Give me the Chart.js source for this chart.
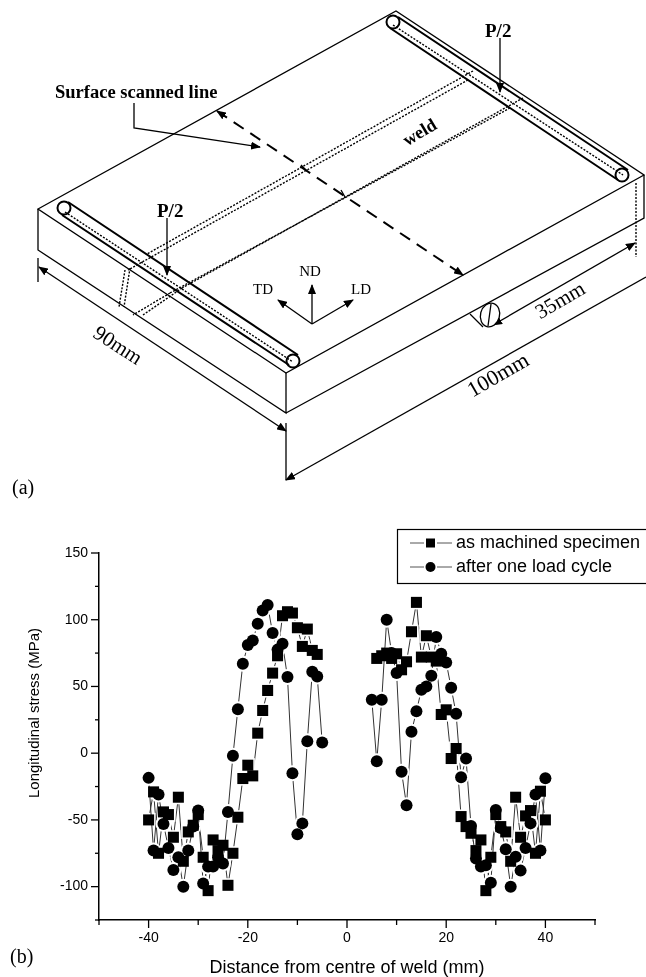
<!DOCTYPE html>
<html>
<head>
<meta charset="utf-8">
<title>Longitudinal stress</title>
<style>
    html, body { margin: 0; padding: 0; background: #fff; }
    #wrap { position: absolute; left: 0; top: 0; width: 646px; height: 977px; overflow: hidden; }
    #stress-chart { position: absolute; left: 0; top: 0; }
    #sketch { position: absolute; left: 0; top: 0; pointer-events: none; }
    #sketch text { font-family: "Liberation Serif", serif; fill: #000; }
    #sketch .bold { font-weight: bold; }
</style>
</head>
<body>
<div id="wrap">
    <canvas id="stress-chart" width="646" height="977"></canvas>
    <!-- specimen drawing (a), not data -->
    <svg id="sketch" width="646" height="977" xmlns="http://www.w3.org/2000/svg">
        <defs>
            <marker id="head" markerUnits="userSpaceOnUse" markerWidth="10" markerHeight="8" refX="9" refY="4" orient="auto-start-reverse">
                <path d="M0 0 L10 4 L0 8 Z" fill="#000"/>
            </marker>
        </defs>
        <g fill="none" stroke="#000" stroke-width="1.3">
            <!-- block -->
            <path d="M38 209 L396 11 L644 175 L286 373 Z"/>
            <path d="M38 209 V250 L286 413 V373 M286 413 L644 218 V175"/>
            <!-- rods -->
            <g stroke-width="2">
                <path d="M398 17 L628 170 M390 28 L618 180"/>
                <path d="M68 202 L298 355 M62 215 L289 365"/>
                <circle cx="393" cy="22" r="6.5"/>
                <circle cx="622" cy="175" r="6.5"/>
                <circle cx="64" cy="208" r="6.5"/>
                <circle cx="293" cy="361" r="6.5"/>
            </g>
            <g stroke-width="1.4" stroke-dasharray="2 1.5">
                <path d="M393 25 L623 175 M65 212 L293 362"/>
                <!-- weld lines -->
                <path d="M473 71 L147 254 M468 80 L128 270"/>
                <path d="M523 98 L182 288 M510 108 L170 293"/>
                <path d="M125 270 L119 307 M130 268 L124 307"/>
                <path d="M170 293 L133 315 M182 288 L143 315"/>
                <path d="M636 183 V257"/>
            </g>
            <path d="M301 165 L307 171 M341 190 L345 197"/>
            <!-- scanned line -->
            <path d="M217 111 L463 275" stroke-width="2" stroke-dasharray="12 8" marker-start="url(#head)" marker-end="url(#head)"/>
            <path d="M134 103 V128 L260 147" marker-end="url(#head)"/>
            <!-- load arrows -->
            <path d="M167 218 V275" marker-end="url(#head)"/>
            <path d="M500 38 V92" marker-end="url(#head)"/>
            <!-- directions -->
            <path d="M312 324 V285" marker-end="url(#head)"/>
            <path d="M312 324 L353 300" marker-end="url(#head)"/>
            <path d="M312 324 L278 300" marker-end="url(#head)"/>
            <!-- dimensions -->
            <path d="M38 258 V282 M286 423 V480"/>
            <path d="M39 267 L286 431" marker-start="url(#head)" marker-end="url(#head)"/>
            <path d="M286 480 L646 277" marker-start="url(#head)"/>
            <path d="M493 325 L635 243" marker-start="url(#head)" marker-end="url(#head)"/>
            <!-- strain gauge hole -->
            <ellipse cx="490" cy="315" rx="9.5" ry="12" transform="rotate(15 490 315)" fill="#fff"/>
            <path d="M470 314 L483 327 M491 304 L488 326"/>
        </g>
        <text x="55" y="98" font-size="18.5" class="bold">Surface scanned line</text>
        <text x="157" y="217" font-size="19" class="bold">P/2</text>
        <text x="485" y="37" font-size="19" class="bold">P/2</text>
        <text x="420" y="138" font-size="18" class="bold" text-anchor="middle" transform="rotate(-31 420 133)">weld</text>
        <text x="310" y="276" font-size="15" text-anchor="middle">ND</text>
        <text x="263" y="294" font-size="15" text-anchor="middle">TD</text>
        <text x="361" y="294" font-size="15" text-anchor="middle">LD</text>
        <text x="118" y="352" font-size="21" text-anchor="middle" transform="rotate(33 118 345)">90mm</text>
        <text x="498" y="382" font-size="22" text-anchor="middle" transform="rotate(-30 498 375)">100mm</text>
        <text x="560" y="307" font-size="21" text-anchor="middle" transform="rotate(-30 560 300)">35mm</text>
        <text x="12" y="494" font-size="20">(a)</text>
        <text x="10" y="963" font-size="20">(b)</text>
    </svg>
</div>

<script src="https://cdn.jsdelivr.net/npm/chart.js@4/dist/chart.umd.min.js"></script>
<script>
// distance from centre of weld (mm), null row keeps the two sides apart
const distance = [
    -40, -39, -38, -37, -36, -35, -34, -33, -32, -31, -30, -29, -28, -27, -26, -25, -24, -23,
    -22, -21, -20, -19, -18, -17, -16, -15, -14, -13, -12, -11, -10, -9, -8, -7, -6, -5,
    0,
    5, 6, 7, 8, 9, 10, 11, 12, 13, 14, 15, 16, 17, 18, 19, 20, 21, 22,
    23, 24, 25, 26, 27, 28, 29, 30, 31, 32, 33, 34, 35, 36, 37, 38, 39, 40
];

const asMachined = [
    -50, -29, -75, -44, -46, -63, -33, -81, -59, -54, -46, -78, -103, -65, -73, -69, -99, -75,
    -48, -19, -9, -17, 15, 32, 47, 60, 73, 103, 106, 105, 94, 80, 93, 77, 74, null,
    null,
    null, 71, 73, 75, 71, 74.5, 62.5, 68.5, 91, 113, 72, 88, 72, 69, 29, 32.5, -4, 3.5,
    -47.5, -55, -60, -73, -65, -103, -78, -46, -55, -59, -81, -33, -63, -47, -43, -75, -28.5, -50
];

const afterLoadCycle = [
    -18.5, -73, -31, -53, -71, -87.6, -78, -100, -73, -55, -43, -97.6, -85, -85, -78, -82.6, -44, -2,
    33, 67, 81, 84.5, 97, 107, 111, 90, 77.6, 82, 57, -15, -60.7, -52.6, 9, 61, 57.5, 8,
    null,
    40, -6, 40, 100, 75, 60, -14, -39, 16, 31.5, 47.5, 50, 58, 87, 74.5, 68, 49, 29.5,
    -18, -4, -54.6, -79, -85, -84, -97, -42.6, -56, -72, -100, -77.6, -88, -71, -52.6, -31, -73, -18.8
];

const seriesNames = ['as machined specimen', 'after one load cycle'];
const xLabelTicks = [-40, -20, 0, 20, 40];
const yLabelTicks = [-100, -50, 0, 50, 100, 150];
const yAxisTitle = 'Longitudinal stress (MPa)';

const AXIS_FONT = 'Liberation Sans';

function toPoints(values) {
    return distance.map((d, i) => ({ x: d, y: values[i] }));
}

// line with white gap round the symbols, symbols go on top in later datasets
function lineDataset(label, values, style, radius, order) {
    return {
        label: label,
        data: toPoints(values),
        showLine: true,
        spanGaps: false,
        tension: 0,
        borderColor: '#333',
        borderWidth: 1,
        pointStyle: style,
        pointRadius: radius,
        pointBackgroundColor: '#fff',
        pointBorderWidth: 0,
        order: order,
    };
}

function symbolDataset(label, values, style, radius, order) {
    return {
        label: label,
        data: toPoints(values),
        showLine: false,
        pointStyle: style,
        pointRadius: radius,
        pointBackgroundColor: '#000',
        pointBorderWidth: 0,
        order: order,
    };
}

// Origin style ticks: long at the labelled values, short between
const axisTicks = {
    id: 'axisTicks',
    afterDraw(chart) {
        const { ctx, scales } = chart;
        ctx.save();
        ctx.strokeStyle = '#000';
        ctx.lineWidth = 1.3;
        scales.x.ticks.forEach(t => {
            const x = scales.x.getPixelForValue(t.value);
            const len = xLabelTicks.includes(t.value) ? 8 : 5;
            ctx.beginPath();
            ctx.moveTo(x, scales.x.top);
            ctx.lineTo(x, scales.x.top + len);
            ctx.stroke();
        });
        scales.y.ticks.forEach(t => {
            const y = scales.y.getPixelForValue(t.value);
            const len = yLabelTicks.includes(t.value) ? 8 : 4;
            ctx.beginPath();
            ctx.moveTo(scales.y.right, y);
            ctx.lineTo(scales.y.right - len, y);
            ctx.stroke();
        });
        ctx.restore();
    }
};

// y title sits above the axis middle in the original, the built in one can't do that
const yTitle = {
    id: 'yTitle',
    afterDraw(chart) {
        const { ctx } = chart;
        ctx.save();
        ctx.translate(35, 713);
        ctx.rotate(-Math.PI / 2);
        ctx.font = '15px "' + AXIS_FONT + '"';
        ctx.fillStyle = '#000';
        ctx.textAlign = 'center';
        ctx.textBaseline = 'middle';
        ctx.fillText(yAxisTitle, 0, 0);
        ctx.restore();
    }
};

// legend box runs off the right edge in the original, so draw it by hand
const legendBox = {
    id: 'legendBox',
    afterDraw(chart) {
        const { ctx } = chart;
        ctx.save();
        ctx.strokeStyle = '#000';
        ctx.lineWidth = 1.2;
        ctx.strokeRect(397.5, 529.5, 260, 54);
        ctx.font = '18px "' + AXIS_FONT + '"';
        ctx.textBaseline = 'middle';
        ctx.fillStyle = '#000';
        seriesNames.forEach((name, i) => {
            const y = 543 + i * 24;
            ctx.strokeStyle = '#555';
            ctx.lineWidth = 1;
            ctx.beginPath();
            ctx.moveTo(410, y);
            ctx.lineTo(452, y);
            ctx.stroke();
            ctx.fillStyle = '#fff';
            ctx.fillRect(424, y - 7, 13, 14);
            ctx.fillStyle = '#000';
            if (i === 0) {
                ctx.fillRect(426, y - 4.5, 9, 9);
            } else {
                ctx.beginPath();
                ctx.arc(430.5, y, 5, 0, Math.PI * 2);
                ctx.fill();
            }
            ctx.fillText(name, 456, y);
        });
        ctx.restore();
    }
};

const ctx = document.getElementById('stress-chart').getContext('2d');
new Chart(ctx, {
    type: 'scatter',
    data: {
        datasets: [
            lineDataset(seriesNames[0], asMachined, 'rect', 10, 4),
            lineDataset(seriesNames[1], afterLoadCycle, 'circle', 8, 3),
            symbolDataset(seriesNames[0], asMachined, 'rect', 7.8, 2),
            symbolDataset(seriesNames[1], afterLoadCycle, 'circle', 6, 1),
        ],
    },
    options: {
        responsive: false,
        animation: false,
        layout: {
            autoPadding: false,
            padding: { left: 0, right: 51, top: 553, bottom: 0 },
        },
        plugins: {
            legend: { display: false },
            tooltip: { enabled: false },
        },
        scales: {
            x: {
                type: 'linear',
                min: -50,
                max: 50,
                afterFit(axis) { axis.height = 57; },
                border: { display: true, color: '#000', width: 1.5 },
                grid: { drawOnChartArea: false, drawTicks: false },
                ticks: {
                    stepSize: 10,
                    padding: 10,
                    maxRotation: 0,
                    autoSkip: false,
                    color: '#000',
                    font: { family: AXIS_FONT, size: 14 },
                    callback: v => (xLabelTicks.includes(v) ? String(v) : ''),
                },
                title: {
                    display: true,
                    text: 'Distance from centre of weld (mm)',
                    color: '#000',
                    font: { family: AXIS_FONT, size: 18 },
                    padding: { top: 0, bottom: -2 },
                },
            },
            y: {
                type: 'linear',
                min: -125,
                max: 150,
                afterFit(axis) { axis.width = 99; },
                border: { display: true, color: '#000', width: 1.5 },
                grid: { drawOnChartArea: false, drawTicks: false },
                ticks: {
                    stepSize: 25,
                    padding: 11,
                    autoSkip: false,
                    color: '#000',
                    font: { family: AXIS_FONT, size: 14 },
                    callback: v => (yLabelTicks.includes(v) ? String(v) : ''),
                },
            },
        },
    },
    plugins: [axisTicks, yTitle, legendBox],
});
</script>
</body>
</html>
